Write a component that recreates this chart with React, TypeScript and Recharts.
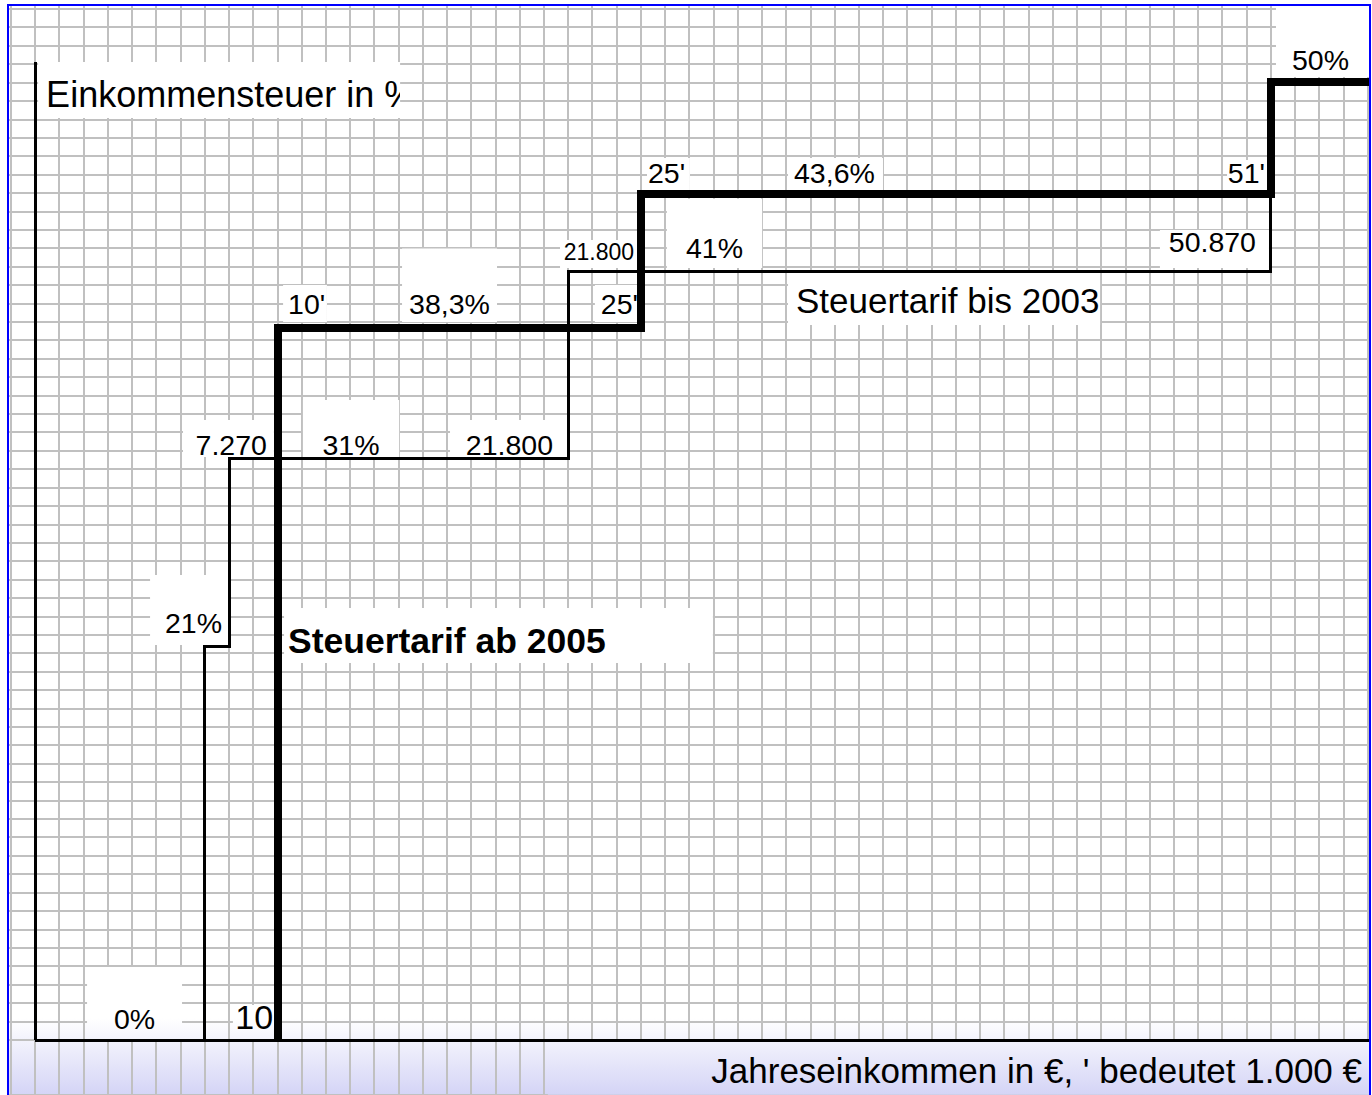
import React from "react"
import { ComposedChart, Line, XAxis, YAxis, CartesianGrid, ReferenceArea, ReferenceLine } from "recharts"

// income in thousand euro, rate level in percent as drawn
const breaks2003 = [0, 7, 8, 22, 51]
const rates2003 = [0, 21, 31, 41, 45.1]
const breaks2005 = [10, 10, 25, 51, 55.1]
const rates2005 = [0, 38, 45.1, 51.1, 51.1]

const tarif2003 = breaks2003.map((x, i) => ({ x, y: rates2003[i] }))
const tarif2005 = breaks2005.map((x, i) => ({ x, y: rates2005[i] }))

// grid: one column per 1.000 €, rows of the paper grid
const gridCols = Array.from({ length: 57 }, (_, i) => i - 1)
const gridRows = Array.from({ length: 57 }, (_, i) => i)

type Note = {
  text: string
  x1: number
  x2: number
  y1: number
  y2: number
  anchor: "start" | "middle" | "end"
  pad: number
  base: number
  size: number
  bold?: boolean
}

const notes: Note[] = [
  { text: "Einkommensteuer in %", x1: 0.12, x2: 15.06, y1: 50.08, y2: 53.12, anchor: "start", pad: 8, base: 11, size: 36 },
  { text: "50%", x1: 51.21, x2: 55.05, y1: 52.31, y2: 56.2, anchor: "end", pad: 20, base: 7, size: 28.5 },
  { text: "51'", x1: 49.19, x2: 50.88, y1: 46.17, y2: 47.8, anchor: "end", pad: 3, base: 7, size: 28.5 },
  { text: "50.870", x1: 46.42, x2: 50.92, y1: 41.93, y2: 44.0, anchor: "end", pad: 13, base: 16, size: 28.5 },
  { text: "25'", x1: 25.25, x2: 27.02, y1: 46.17, y2: 47.91, anchor: "start", pad: 1, base: 7, size: 28.5 },
  { text: "43,6%", x1: 31.07, x2: 34.99, y1: 46.17, y2: 47.91, anchor: "start", pad: 6, base: 7, size: 28.5 },
  { text: "21.800", x1: 21.66, x2: 24.88, y1: 41.93, y2: 43.45, anchor: "end", pad: 4, base: 8, size: 23 },
  { text: "41%", x1: 26.07, x2: 30.0, y1: 41.93, y2: 45.7, anchor: "middle", pad: 0, base: 10, size: 28.5 },
  { text: "Steuertarif bis 2003", x1: 31.07, x2: 43.95, y1: 38.84, y2: 41.72, anchor: "start", pad: 8, base: 12, size: 35 },
  { text: "10'", x1: 10.23, x2: 12.04, y1: 39.0, y2: 41.01, anchor: "start", pad: 5, base: 8, size: 28.5 },
  { text: "38,3%", x1: 15.14, x2: 19.06, y1: 39.0, y2: 43.0, anchor: "middle", pad: 0, base: 8, size: 28.5 },
  { text: "25'", x1: 23.1, x2: 24.92, y1: 39.0, y2: 41.01, anchor: "end", pad: 1, base: 8, size: 28.5 },
  { text: "7.270", x1: 6.1, x2: 9.85, y1: 31.67, y2: 33.68, anchor: "end", pad: 7, base: 2, size: 28.5 },
  { text: "31%", x1: 11.05, x2: 15.02, y1: 31.67, y2: 34.76, anchor: "middle", pad: 0, base: 2, size: 28.5 },
  { text: "21.800", x1: 17.12, x2: 21.95, y1: 31.67, y2: 33.68, anchor: "end", pad: 14, base: 2, size: 28.5 },
  { text: "21%", x1: 4.74, x2: 8.0, y1: 21.46, y2: 25.26, anchor: "end", pad: 7, base: 12, size: 28.5 },
  { text: "Steuertarif ab 2005", x1: 10.27, x2: 27.97, y1: 20.48, y2: 23.47, anchor: "start", pad: 4, base: 10, size: 35.5, bold: true },
  { text: "0%", x1: 2.14, x2: 6.06, y1: 0.05, y2: 3.97, anchor: "middle", pad: 0, base: 10, size: 28.5 },
  { text: "10", x1: 8.16, x2: 9.86, y1: 0.05, y2: 1.9, anchor: "end", pad: 1, base: 10, size: 34 },
  { text: "Jahreseinkommen in €, ' bedeutet 1.000 €", x1: 21.16, x2: 55.05, y1: -2.98, y2: -0.11, anchor: "end", pad: 7, base: 12, size: 35 },
]

const font = "'Liberation Sans', Arial, Helvetica, sans-serif"

const renderNote = (n: Note) => (props: any) => {
  const vb = props.viewBox || {}
  const { x = 0, y = 0, width = 0, height = 0 } = vb
  const tx = n.anchor === "start" ? n.pad : n.anchor === "end" ? width - n.pad : width / 2
  return (
    <svg x={x} y={y} width={width} height={height} overflow="hidden">
      <text
        x={tx}
        y={height - n.base}
        textAnchor={n.anchor}
        fontSize={n.size}
        fontWeight={n.bold ? 700 : 400}
        fontFamily={font}
        fill="#000"
      >
        {n.text}
      </text>
    </svg>
  )
}

export default function App() {
  return (
    <div style={{ position: "absolute", left: 0, top: 0, width: 1372, height: 1095, background: "#fff", overflow: "hidden" }}>
      <style>{`
        .recharts-cartesian-grid line, .recharts-reference-area rect, .recharts-reference-line line, .recharts-line path {
          shape-rendering: crispEdges;
        }
      `}</style>
      <svg width={0} height={0} style={{ position: "absolute" }}>
        <defs>
          <linearGradient id="paper" gradientUnits="userSpaceOnUse" x1={0} y1={0} x2={0} y2={1095}>
            <stop offset="0" stopColor="#ffffff" />
            <stop offset="0.93" stopColor="#ffffff" />
            <stop offset="1" stopColor="#d4d4f6" />
          </linearGradient>
        </defs>
      </svg>
      <ComposedChart width={1372} height={1095} margin={{ top: 5, right: 2, left: 8, bottom: 0 }}>
        <XAxis
          type="number"
          dataKey="x"
          domain={[-1.123, 55.09]}
          ticks={gridCols}
          interval={0}
          allowDataOverflow
          hide
        />
        <YAxis type="number" domain={[-2.988, 56.22]} ticks={gridRows} interval={0} allowDataOverflow hide />
        <YAxis yAxisId="pct" type="number" domain={[-2.933, 55.2]} allowDataOverflow hide />
        <CartesianGrid stroke="#c0c0c0" strokeWidth={2} fill="url(#paper)" fillOpacity={1} />
        {notes.map((n, i) => (
          <ReferenceArea
            key={i}
            x1={n.x1}
            x2={n.x2}
            y1={n.y1}
            y2={n.y2}
            fill="url(#paper)"
            fillOpacity={1}
            stroke="none"
            label={renderNote(n)}
          />
        ))}
        <ReferenceLine
          yAxisId="pct"
          segment={[{ x: 0, y: 0 }, { x: 0, y: 52.16 }]}
          stroke="#000"
          strokeWidth={3}
        />
        <ReferenceLine
          yAxisId="pct"
          segment={[{ x: 0, y: 0 }, { x: 55.09, y: 0 }]}
          stroke="#000"
          strokeWidth={3}
        />
        <Line
          yAxisId="pct"
          data={tarif2003}
          dataKey="y"
          type="stepAfter"
          stroke="#000"
          strokeWidth={3}
          strokeLinejoin="miter"
          dot={false}
          activeDot={false}
          isAnimationActive={false}
        />
        <Line
          yAxisId="pct"
          data={tarif2005}
          dataKey="y"
          type="stepAfter"
          stroke="#000"
          strokeWidth={8}
          strokeLinejoin="miter"
          dot={false}
          activeDot={false}
          isAnimationActive={false}
        />
      </ComposedChart>
      <div
        style={{
          position: "absolute",
          left: 7,
          top: 4,
          width: 1360,
          height: 1100,
          borderLeft: "2px solid #0000ff",
          borderTop: "2px solid #0000ff",
          borderRight: "2px solid #0000ff",
          pointerEvents: "none",
        }}
      />
    </div>
  )
}
